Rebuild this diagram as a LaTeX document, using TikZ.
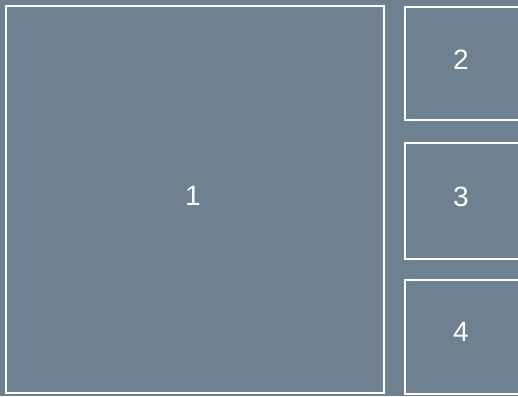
\documentclass[tikz,border=0pt]{standalone}
\usepackage{fontspec}
\setmainfont{Liberation Sans}
\usepackage{tikz}
\definecolor{panelgrey}{RGB}{111,129,144}
\tikzset{panel/.style = {shape = rectangle, draw = white, line width = 2pt, inner sep = 0pt}}
\tikzset{num/.style = {text = white, font = \fontsize{28}{30}\selectfont}}

\begin{document}
\begin{tikzpicture}[x = 1pt, y = -1pt]
			\fill[panelgrey] (0, 0) rectangle (518, 396);
			\useasboundingbox (0, 0) rectangle (518, 396);
			\clip (0, 0) rectangle (518, 396);

			\node[panel, minimum width = 378pt, minimum height = 387pt] (a) at (195, 199.5) {};
			\node[panel, minimum width = 125pt, minimum height = 113pt] (b) at (467.5, 63.5) {};
			\node[panel, minimum width = 125pt, minimum height = 116pt] (c) at (467.5, 201) {};
			\node[panel, minimum width = 125pt, minimum height = 114pt] (d) at (467.5, 337) {};

			\node[num] (la) at (193, 196) {1};
			\node[num] (lb) at (461, 60) {2};
			\node[num] (lc) at (461, 197) {3};
			\node[num] (ld) at (461, 332) {4};
		\end{tikzpicture}
\end{document}
